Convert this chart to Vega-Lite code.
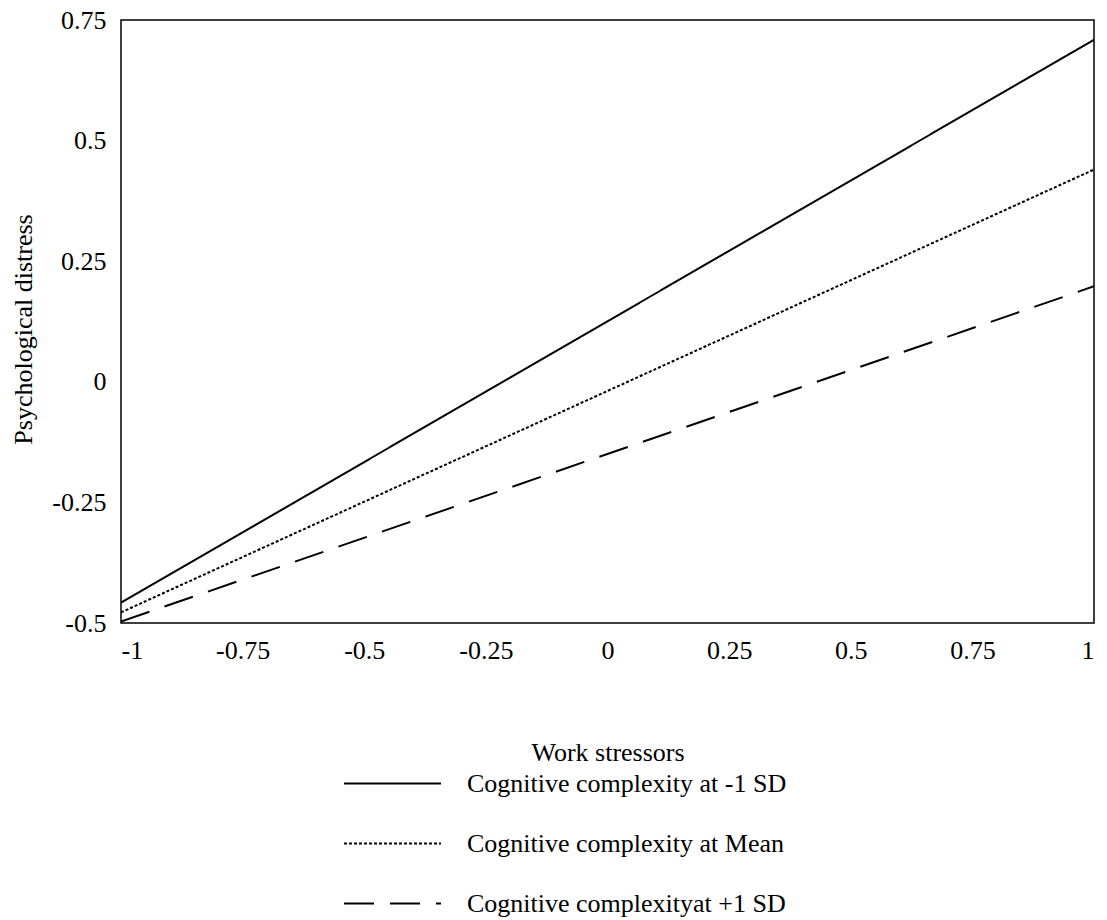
{
  "$schema": "https://vega.github.io/schema/vega-lite/v6.json",
  "autosize": {"type": "none"},
  "padding": {"left": 121, "top": 20, "right": 13, "bottom": 297},
  "width": 973,
  "height": 603,
  "background": "white",
  "config": {
    "font": "Liberation Serif",
    "view": {"stroke": "black", "strokeWidth": 1.5},
    "axis": {"grid": false, "ticks": false, "domain": false, "labelColor": "black", "titleColor": "black", "labelFont": "Liberation Serif", "titleFont": "Liberation Serif", "labelFontSize": 26, "titleFontSize": 26, "titleFontWeight": "normal"}
  },
  "data": {
    "values": [
      {"ws": -1, "pd": -0.458, "group": "Cognitive complexity at -1 SD"},
      {"ws": 1, "pd": 0.709, "group": "Cognitive complexity at -1 SD"},
      {"ws": -1, "pd": -0.478, "group": "Cognitive complexity at Mean"},
      {"ws": 1, "pd": 0.44, "group": "Cognitive complexity at Mean"},
      {"ws": -1, "pd": -0.497, "group": "Cognitive complexityat +1 SD"},
      {"ws": 1, "pd": 0.198, "group": "Cognitive complexityat +1 SD"}
    ]
  },
  "mark": {"type": "line", "color": "black", "strokeWidth": 2, "clip": true},
  "encoding": {
    "x": {
      "field": "ws", "type": "quantitative",
      "scale": {"domain": [-1, 1], "nice": false, "zero": false},
      "axis": {"values": [-1, -0.75, -0.5, -0.25, 0, 0.25, 0.5, 0.75, 1], "labelExpr": "'' + datum.value", "labelPadding": 14, "title": "Work stressors", "titleY": 129, "titleBaseline": "middle"}
    },
    "y": {
      "field": "pd", "type": "quantitative",
      "scale": {"domain": [-0.5, 0.75], "nice": false, "zero": false},
      "axis": {"values": [-0.5, -0.25, 0, 0.25, 0.5, 0.75], "labelExpr": "'' + datum.value", "labelPadding": 15, "title": "Psychological distress", "titleX": -98, "titleY": 309, "titleBaseline": "middle", "titleAngle": -90}
    },
    "strokeDash": {
      "field": "group", "type": "nominal",
      "scale": {"domain": ["Cognitive complexity at -1 SD", "Cognitive complexity at Mean", "Cognitive complexityat +1 SD"], "range": [[1, 0], [3, 2], [30, 16]]},
      "legend": {
        "title": null, "orient": "none", "legendX": 258, "legendY": 750,
        "direction": "vertical", "symbolType": "M-4,0H4", "symbolSize": 588,
        "symbolStrokeColor": "black", "symbolStrokeWidth": 2, "symbolFillColor": "transparent",
        "labelFont": "Liberation Serif", "labelFontSize": 26, "labelColor": "black",
        "labelOffset": 61, "rowPadding": 33, "padding": 0, "labelLimit": 500
      }
    }
  }
}
